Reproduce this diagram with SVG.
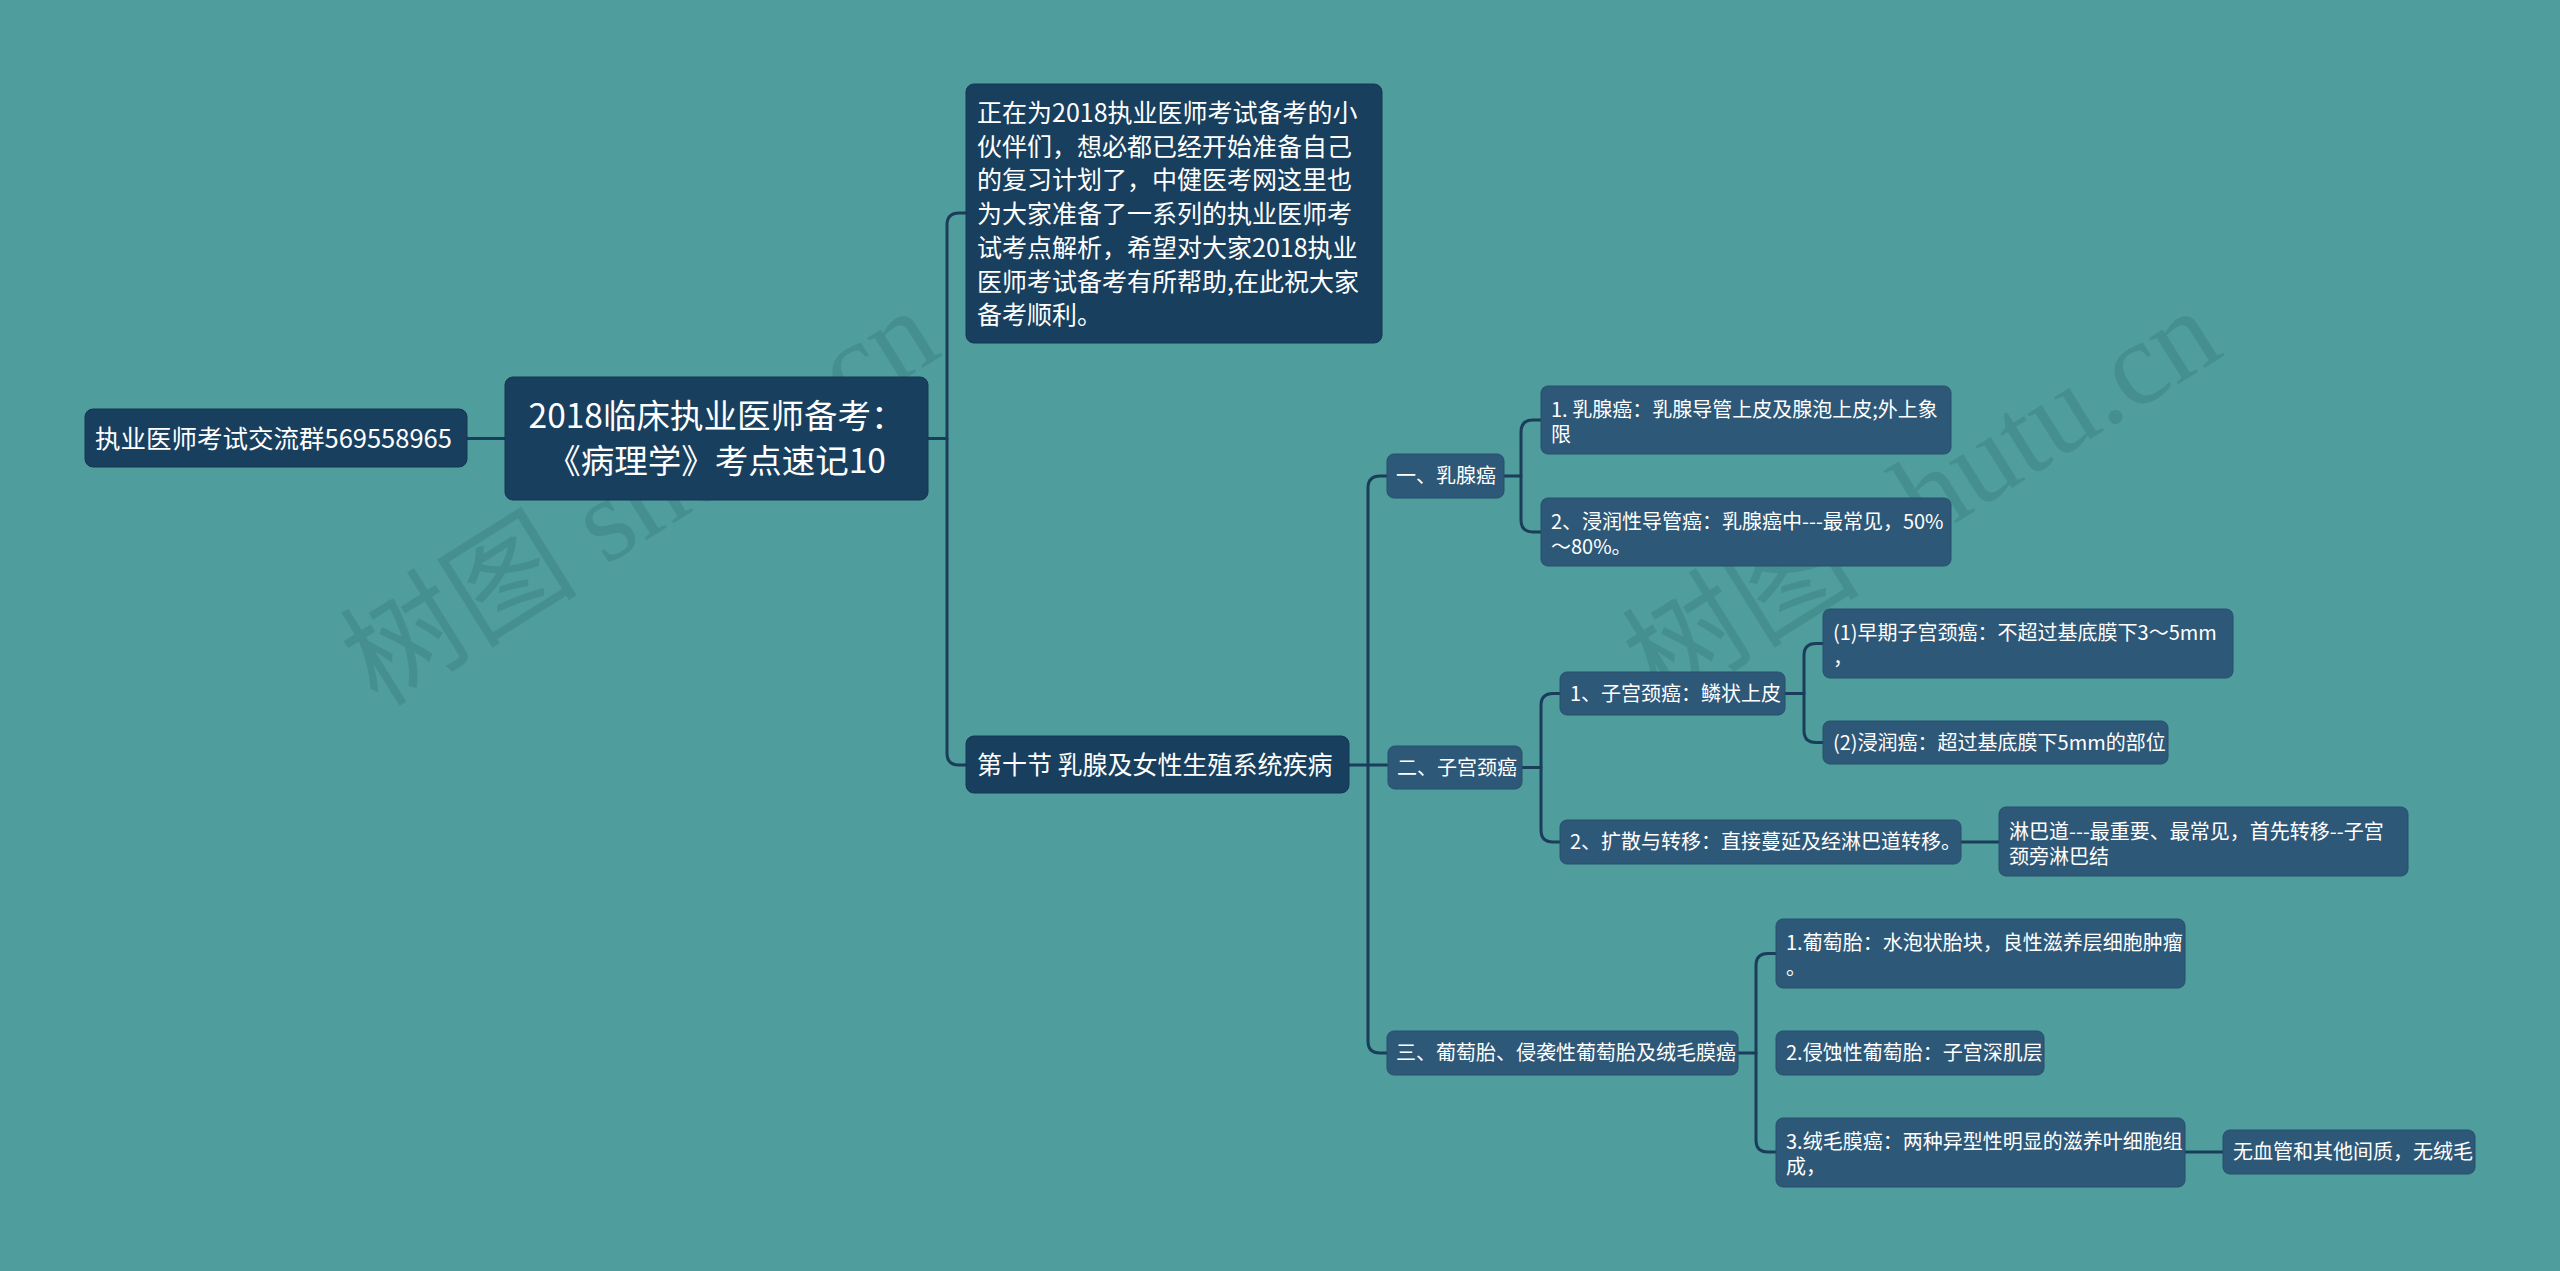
<svg xmlns="http://www.w3.org/2000/svg" width="2560" height="1271" viewBox="0 0 2560 1271">
<style>
text{font-family:"Noto Sans CJK SC","Noto Sans",sans-serif;fill:#ffffff}
.dark{fill:#183f5e;stroke:#143653;stroke-width:1}
.light{fill:#2e5878;stroke:#274e6c;stroke-width:1}
.s20{font-size:20px}
.s25{font-size:25px}
.wm{font-family:"Liberation Serif","Noto Sans CJK SC",serif;font-size:119px;fill:#1f5a66;fill-opacity:0.2}
.ln{fill:none;stroke:#1a3d5a;stroke-width:3;stroke-linecap:round}
</style>
<rect x="0" y="0" width="2560" height="1271" fill="#4f9d9d"/>
<g id="watermarks">
<text class="wm" x="378" y="708" transform="rotate(-32 378 708)">树图 shutu.cn</text>
<text class="wm" x="1660" y="708" transform="rotate(-32 1660 708)">树图 shutu.cn</text>
</g>
<g id="connectors">
<path class="ln" d="M467 438.5H505"/>
<path class="ln" d="M928 438.5H947"/>
<path class="ln" d="M966 213H959Q947 213 947 225V753Q947 765 959 765H966"/>
<path class="ln" d="M1349 765H1387"/>
<path class="ln" d="M1387 476H1380Q1368 476 1368 488V1041Q1368 1053 1380 1053H1387"/>
<path class="ln" d="M1504 476H1521"/>
<path class="ln" d="M1541 420H1533Q1521 420 1521 432V520Q1521 532 1533 532H1541"/>
<path class="ln" d="M1522 767.5H1541"/>
<path class="ln" d="M1560 693.5H1553Q1541 693.5 1541 705.5V830Q1541 842 1553 842H1560"/>
<path class="ln" d="M1785 693.5H1804"/>
<path class="ln" d="M1823 643.5H1816Q1804 643.5 1804 655.5V730.5Q1804 742.5 1816 742.5H1823"/>
<path class="ln" d="M1961 842H1999"/>
<path class="ln" d="M1738 1053H1756"/>
<path class="ln" d="M1776 953.5H1768Q1756 953.5 1756 965.5V1140Q1756 1152 1768 1152H1776"/>
<path class="ln" d="M2185 1152H2223"/>
</g>
<g id="node-left">
<rect class="dark" x="85" y="409" width="382" height="58" rx="8"/>
<text x="95" y="447.5" style="font-size:25.5px">执业医师考试交流群569558965</text>
</g>
<g id="node-root">
<rect class="dark" x="505" y="377" width="423" height="123" rx="8"/>
<text x="716.5" y="428" text-anchor="middle" style="font-size:33.5px">2018临床执业医师备考：</text>
<text x="716.5" y="473" text-anchor="middle" style="font-size:33.5px">《病理学》考点速记10</text>
</g>
<g id="node-intro">
<rect class="dark" x="966" y="84" width="416" height="259" rx="8"/>
<text class="s25" x="977"><tspan x="977" y="122">正在为2018执业医师考试备考的小</tspan><tspan x="977" y="155.7">伙伴们，想必都已经开始准备自己</tspan><tspan x="977" y="189.4">的复习计划了，中健医考网这里也</tspan><tspan x="977" y="223.1">为大家准备了一系列的执业医师考</tspan><tspan x="977" y="256.8">试考点解析，希望对大家2018执业</tspan><tspan x="977" y="290.5">医师考试备考有所帮助,在此祝大家</tspan><tspan x="977" y="324.2">备考顺利。</tspan></text>
</g>
<g id="node-section">
<rect class="dark" x="966" y="736" width="383" height="57" rx="8"/>
<text class="s25" x="977" y="774">第十节 乳腺及女性生殖系统疾病</text>
</g>
<g id="node-a">
<rect class="light" x="1387" y="454" width="117" height="44" rx="7"/>
<text class="s20" x="1396" y="483">一、乳腺癌</text>
</g>
<g id="node-a1">
<rect class="light" x="1541" y="386" width="410" height="68" rx="7"/>
<text class="s20"><tspan x="1551" y="417">1. 乳腺癌：乳腺导管上皮及腺泡上皮;外上象</tspan><tspan x="1551" y="442">限</tspan></text>
</g>
<g id="node-a2">
<rect class="light" x="1541" y="498" width="410" height="68" rx="7"/>
<text class="s20"><tspan x="1551" y="529">2、浸润性导管癌：乳腺癌中---最常见，50%</tspan><tspan x="1551" y="554">～80%。</tspan></text>
</g>
<g id="node-b">
<rect class="light" x="1388" y="746" width="134" height="43" rx="7"/>
<text class="s20" x="1397" y="774.5">二、子宫颈癌</text>
</g>
<g id="node-b1">
<rect class="light" x="1560" y="672" width="225" height="43" rx="7"/>
<text class="s20" x="1570" y="700.5">1、子宫颈癌：鳞状上皮</text>
</g>
<g id="node-b1a">
<rect class="light" x="1823" y="609" width="410" height="69" rx="7"/>
<text class="s20"><tspan x="1833" y="640">(1)早期子宫颈癌：不超过基底膜下3～5mm</tspan><tspan x="1833" y="665">，</tspan></text>
</g>
<g id="node-b1b">
<rect class="light" x="1823" y="721" width="345" height="43" rx="7"/>
<text class="s20" x="1833" y="749.5">(2)浸润癌：超过基底膜下5mm的部位</text>
</g>
<g id="node-b2">
<rect class="light" x="1560" y="820" width="401" height="44" rx="7"/>
<text class="s20" x="1570" y="849">2、扩散与转移：直接蔓延及经淋巴道转移。</text>
</g>
<g id="node-b2a">
<rect class="light" x="1999" y="807" width="409" height="69" rx="7"/>
<text class="s20"><tspan x="2009" y="838.5">淋巴道---最重要、最常见，首先转移--子宫</tspan><tspan x="2009" y="863.5">颈旁淋巴结</tspan></text>
</g>
<g id="node-c">
<rect class="light" x="1387" y="1031" width="351" height="44" rx="7"/>
<text class="s20" x="1396" y="1060">三、葡萄胎、侵袭性葡萄胎及绒毛膜癌</text>
</g>
<g id="node-c1">
<rect class="light" x="1776" y="919" width="409" height="69" rx="7"/>
<text class="s20"><tspan x="1786" y="950">1.葡萄胎：水泡状胎块，良性滋养层细胞肿瘤</tspan><tspan x="1786" y="975">。</tspan></text>
</g>
<g id="node-c2">
<rect class="light" x="1776" y="1031" width="268" height="44" rx="7"/>
<text class="s20" x="1786" y="1060">2.侵蚀性葡萄胎：子宫深肌层</text>
</g>
<g id="node-c3">
<rect class="light" x="1776" y="1118" width="409" height="69" rx="7"/>
<text class="s20"><tspan x="1786" y="1149">3.绒毛膜癌：两种异型性明显的滋养叶细胞组</tspan><tspan x="1786" y="1174">成，</tspan></text>
</g>
<g id="node-c3a">
<rect class="light" x="2223" y="1130" width="252" height="44" rx="7"/>
<text class="s20" x="2233" y="1159">无血管和其他间质，无绒毛</text>
</g>
</svg>
